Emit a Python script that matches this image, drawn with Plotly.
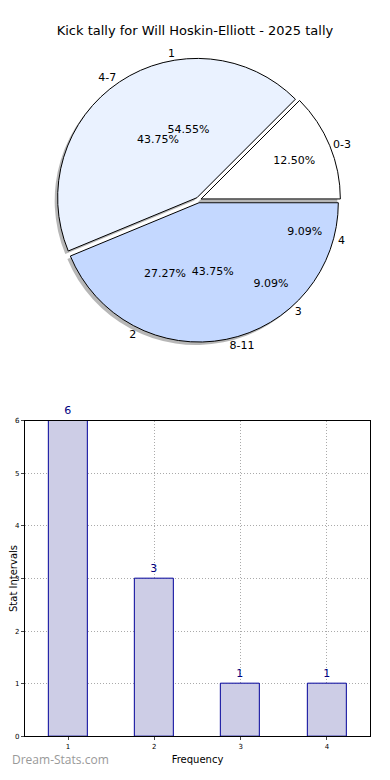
import plotly.graph_objects as go

# ---- data ----
title_text = "Kick tally for Will Hoskin-Elliott - 2025 tally"
range_labels = ["0-3", "4-7", "8-11"]
range_values = [2, 7, 7]
range_colors = ["#ffffff", "#eaf2ff", "#c4d8ff"]

freq_labels = ["1", "2", "3", "4"]
freq_values = [6, 3, 1, 1]

bar_x = [1, 2, 3, 4]
bar_y = [6, 3, 1, 1]

# page body has an 8px margin; size the figure so the page fits the window
OFF = 8
W, H = 390 - 2 * OFF, 780 - 2 * OFF
font_family = "DejaVu Sans"


def px(x):
    return (x - OFF) / W


def py(y):
    return 1 - (y - OFF) / H


# pie geometry in window pixels
cx, cy, rad = 196, 198, 144


def dom(cx_, cy_, r_):
    return dict(x=[px(cx_ - r_), px(cx_ + r_)], y=[py(cy_ + r_), py(cy_ - r_)])


def start_at_east(values):
    # plotly: counterclockwise pies begin the first slice at rotation + its angle
    return 90 - 360.0 * values[0] / sum(values)


fig = go.Figure()

rng_common = dict(sort=False, direction="counterclockwise", rotation=start_at_east(range_values))
frq_common = dict(sort=False, direction="counterclockwise", rotation=start_at_east(freq_values))

# shadow of range pie
fig.add_trace(go.Pie(
    labels=range_labels, values=range_values, domain=dom(cx - 3, cy + 3, rad),
    marker=dict(colors=["#888888"] * 3, line=dict(width=0)),
    pull=[0.02] * 3, textinfo="none", hoverinfo="skip", showlegend=False,
    opacity=0.6, **rng_common))

# range pie with percentages inside
fig.add_trace(go.Pie(
    labels=range_labels, values=range_values, domain=dom(cx, cy, rad),
    marker=dict(colors=range_colors, line=dict(color="#000000", width=1)),
    pull=[0.02] * 3, textinfo="percent", texttemplate="%{percent:.2%}",
    textposition="inside", insidetextorientation="horizontal",
    textfont=dict(family=font_family, size=11, color="#000000"),
    showlegend=False, **rng_common))

# range pie labels outside
fig.add_trace(go.Pie(
    labels=range_labels, values=range_values, domain=dom(cx, cy, rad),
    marker=dict(colors=["rgba(0,0,0,0)"] * 3, line=dict(width=0)),
    pull=[0.02] * 3, textinfo="label", textposition="outside",
    textfont=dict(family=font_family, size=11, color="#000000"),
    hoverinfo="skip", showlegend=False, **rng_common))

# frequency pie percentages inside (transparent)
fig.add_trace(go.Pie(
    labels=freq_labels, values=freq_values, domain=dom(cx, cy, rad),
    marker=dict(colors=["rgba(0,0,0,0)"] * 4, line=dict(width=0)),
    textinfo="percent", texttemplate="%{percent:.2%}",
    textposition="inside", insidetextorientation="horizontal",
    textfont=dict(family=font_family, size=11, color="#000000"),
    showlegend=False, **frq_common))

# frequency pie labels outside
fig.add_trace(go.Pie(
    labels=freq_labels, values=freq_values, domain=dom(cx, cy, rad),
    marker=dict(colors=["rgba(0,0,0,0)"] * 4, line=dict(width=0)),
    textinfo="label", textposition="outside",
    textfont=dict(family=font_family, size=11, color="#000000"),
    hoverinfo="skip", showlegend=False, **frq_common))

# bar chart
fig.add_trace(go.Bar(
    x=bar_x, y=bar_y, width=0.45,
    marker=dict(color="#cdcde6", line=dict(color="#000099", width=1)),
    text=[str(v) for v in bar_y], textposition="outside",
    textfont=dict(family=font_family, size=11, color="#000080"),
    cliponaxis=False, showlegend=False, xaxis="x", yaxis="y"))

x0, x1 = 20, 370
y0, y1 = 421, 740
grid = dict(showgrid=True, gridcolor="#aaaaaa", griddash="1px,2px", gridwidth=1)
fig.update_layout(
    width=W, height=H, margin=dict(l=0, r=0, t=0, b=0),
    paper_bgcolor="#ffffff", plot_bgcolor="#ffffff",
    font=dict(family=font_family, color="#000000"),
    title=dict(text=title_text, x=px(195), xanchor="center", y=py(30), yanchor="middle",
               font=dict(family=font_family, size=13, color="#000000")),
    xaxis=dict(domain=[px(x0), px(x1)], range=[0.5, 4.5], tickvals=bar_x,
               ticktext=[str(v) for v in bar_x], tickfont=dict(size=7),
               ticks="outside", ticklen=3, showline=True, linecolor="#000000",
               mirror=True, zeroline=False,
               title=dict(text="Frequency", font=dict(size=10), standoff=6), **grid),
    yaxis=dict(domain=[py(y1), py(y0)], range=[0, 6], dtick=1,
               tickfont=dict(size=7), ticks="outside", ticklen=3,
               showline=True, linecolor="#000000", mirror=True, zeroline=False,
               title=dict(text="Stat Intervals", font=dict(size=10), standoff=0), **grid),
    bargap=0,
    annotations=[dict(text="Dream-Stats.com", xref="paper", yref="paper", x=0, y=0,
                      xanchor="left", yanchor="bottom", xshift=-3, yshift=-2,
                      showarrow=False,
                      font=dict(family="Open Sans", size=12, color="#999999"))],
)

fig.write_html("out.html")
